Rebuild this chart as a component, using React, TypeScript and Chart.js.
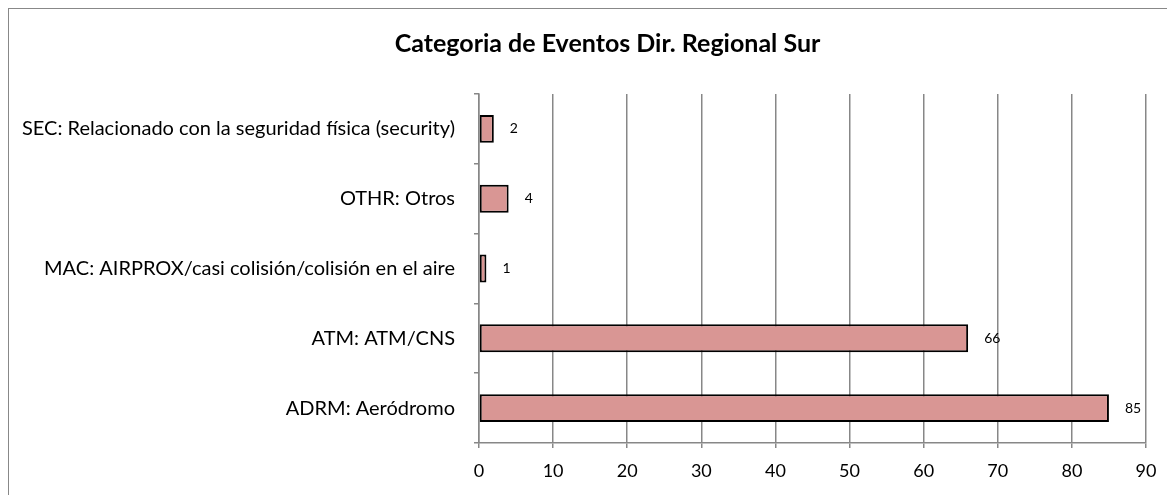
import React, { useEffect, useRef } from "react";
import { Chart, registerables } from "chart.js";

Chart.register(...registerables);

const categories = [
  "SEC: Relacionado con la seguridad física (security)",
  "OTHR: Otros",
  "MAC: AIRPROX/casi colisión/colisión en el aire",
  "ATM: ATM/CNS",
  "ADRM: Aeródromo",
];
const eventCounts = [2, 4, 1, 66, 85];
const chartTitle = "Categoria de Eventos Dir. Regional Sur";
const xMin = 0;
const xMax = 90;
const xStep = 10;

const FONT = 'Lato, "Noto Sans", sans-serif';
const GRID = "#878787";

const valueLabels = {
  id: "valueLabels",
  afterDatasetsDraw(chart: any) {
    const ctx = chart.ctx;
    const meta = chart.getDatasetMeta(0);
    ctx.save();
    ctx.font = `14px ${FONT}`;
    ctx.fillStyle = "#000";
    ctx.textAlign = "left";
    ctx.textBaseline = "middle";
    meta.data.forEach((el: any, i: number) => {
      ctx.fillText(String(eventCounts[i]), el.x + 16, el.y);
    });
    ctx.restore();
  },
};

export default function App() {
  const ref = useRef<HTMLCanvasElement | null>(null);
  useEffect(() => {
    document.documentElement.style.overflow = "hidden";
    document.body.style.overflow = "hidden";
    if (!ref.current) return;
    const chart = new Chart(ref.current, {
      type: "bar",
      data: {
        labels: categories,
        datasets: [
          {
            data: eventCounts,
            yAxisID: "y",
            xAxisID: "x",
            backgroundColor: "#D99694",
            borderColor: "#000",
            borderWidth: 2,
            borderSkipped: false,
            barPercentage: 0.4,
            categoryPercentage: 1,
          },
        ],
      },
      options: {
        indexAxis: "y",
        responsive: false,
        animation: false,
        devicePixelRatio: 1,
        layout: { padding: { left: 0, right: 0, top: 0, bottom: 0 } },
        plugins: {
          legend: { display: false },
          tooltip: { enabled: false },
          title: {
            display: true,
            text: chartTitle,
            color: "#000",
            font: { family: FONT, size: 25, weight: "bold", lineHeight: 1.2 },
            padding: { top: 20, bottom: 35 },
          },
        },
        scales: {
          y: {
            axis: "y",
            position: "left",
            afterFit(scale: any) {
              scale.width = 470;
            },
            ticks: {
              color: "#000",
              padding: 19,
              font: { family: FONT, size: 20 },
            },
            grid: {
              color: GRID,
              lineWidth: 1.5,
              drawOnChartArea: false,
              drawTicks: true,
              tickLength: 5,
              offset: true,
            },
            border: { color: GRID, width: 1.5 },
          },
          x: {
            axis: "x",
            position: "bottom",
            min: xMin,
            max: xMax,
            afterFit(scale: any) {
              scale.height = 66;
            },
            ticks: {
              stepSize: xStep,
              color: "#000",
              padding: 12,
              font: { family: FONT, size: 18 },
            },
            grid: {
              color: GRID,
              lineWidth: 1.5,
              tickLength: 5,
              drawTicks: true,
            },
            border: { color: GRID, width: 1.5 },
          },
          yRightSpace: {
            axis: "y",
            type: "category",
            position: "right",
            labels: categories,
            afterFit(scale: any) {
              scale.width = 60;
            },
            ticks: { display: false },
            grid: { display: false, drawTicks: false },
            border: { display: false },
          },
        },
      },
      plugins: [valueLabels],
    });
    return () => chart.destroy();
  }, []);
  return (
    <div
      style={{
        position: "relative",
        width: 1197,
        height: 500,
        border: "1px solid #888",
        background: "#fff",
      }}
    >
      <canvas ref={ref} width={1197} height={500} style={{ display: "block" }} />
    </div>
  );
}
